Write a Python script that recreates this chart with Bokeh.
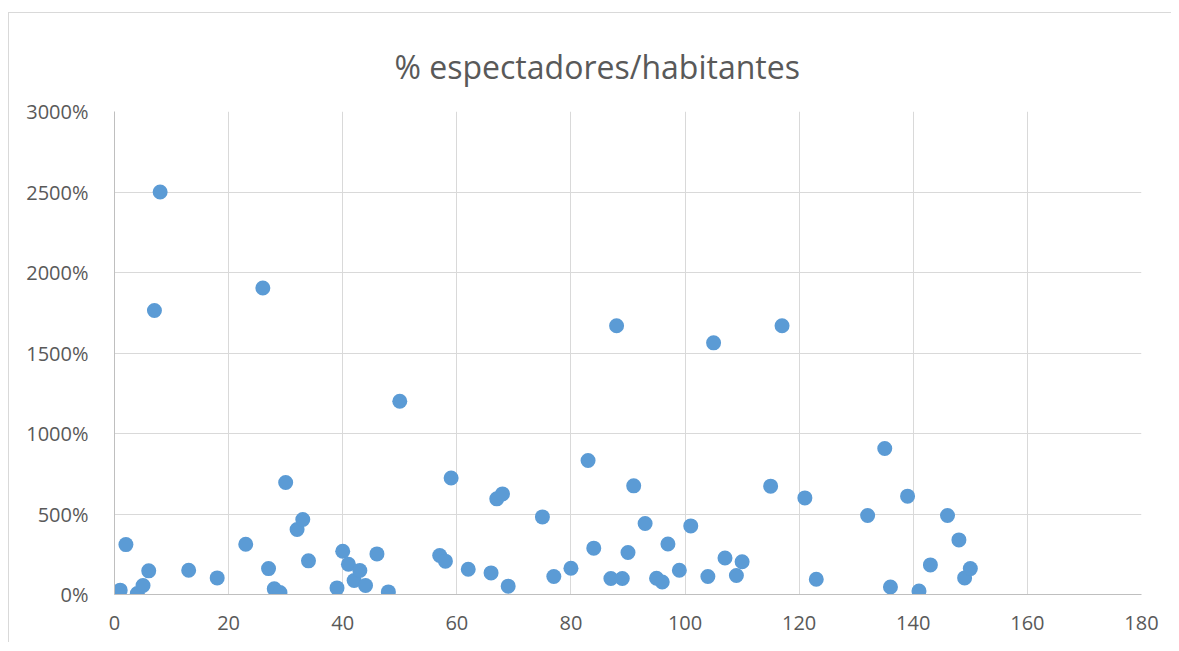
from bokeh.plotting import figure
from bokeh.models import ColumnDataSource, Range1d, FixedTicker, PrintfTickFormatter
from bokeh.embed import file_html
from bokeh.resources import INLINE

# Data (x: ordinal, y: % espectadores/habitantes)
x_vals = [1, 2, 4, 5, 6, 7, 8, 13, 18, 23, 26, 27, 28, 29, 30, 32, 33, 34, 39, 40,
          41, 42, 43, 44, 46, 48, 50, 57, 58, 59, 62, 66, 67, 68, 69, 75, 77, 80, 83, 84,
          87, 88, 89, 90, 91, 93, 95, 96, 97, 99, 101, 104, 105, 107, 109, 110, 115, 117, 121, 123,
          132, 135, 136, 139, 141, 143, 146, 148, 149, 150]
y_vals = [27, 310, 6, 56, 147, 1764, 2500, 151, 103, 312, 1904, 161, 35, 12, 696, 404, 466, 209, 41, 269,
          188, 87, 149, 56, 252, 16, 1200, 242, 207, 724, 157, 134, 594, 625, 52, 482, 112, 163, 832, 288,
          99, 1669, 99, 261, 675, 441, 101, 78, 314, 151, 426, 112, 1563, 227, 118, 203, 673, 1669, 600, 95,
          491, 907, 47, 611, 22, 184, 491, 339, 103, 161]
x_ticks = [0, 20, 40, 60, 80, 100, 120, 140, 160, 180]
y_ticks = [0, 500, 1000, 1500, 2000, 2500, 3000]
title_text = "% espectadores/habitantes"

FONT = "Open Sans"
TXT = "#595959"
GRID = "#d9d9d9"

src = ColumnDataSource(data=dict(x=x_vals, y=y_vals))

p = figure(width=1163, height=640, output_backend="svg", toolbar_location=None,
           x_range=Range1d(0, 180), y_range=Range1d(0, 3000),
           min_border_left=106, min_border_right=30, min_border_top=109, min_border_bottom=48,
           title=title_text)
# thin chart-area border (top and left) drawn behind a transparent canvas border
p.styles = {
    "margin-top": "2px", "margin-left": "8px",
    "background": ("linear-gradient(#d9d9d9,#d9d9d9) 0px 10px / 100% 1px no-repeat, "
                   "linear-gradient(#d9d9d9,#d9d9d9) 0px 10px / 1px 100% no-repeat, white"),
}

p.scatter("x", "y", source=src, size=15, fill_color="#5b9bd5", line_color="#5b9bd5", line_width=0)

p.outline_line_color = None
p.background_fill_color = "white"
p.border_fill_alpha = 0

p.title.align = "left"
p.title.offset = 280
p.title.text_font = FONT
p.title.text_font_size = "32px"
p.title.text_color = TXT
p.title.text_font_style = "normal"
p.title.standoff = 48

p.xaxis.ticker = FixedTicker(ticks=x_ticks)
p.yaxis.ticker = FixedTicker(ticks=y_ticks)
p.yaxis.formatter = PrintfTickFormatter(format="%d%%")

for ax in (p.xaxis[0], p.yaxis[0]):
    ax.major_label_text_font = FONT
    ax.major_label_text_font_size = "20px"
    ax.major_label_text_color = TXT
    ax.major_tick_line_color = None
    ax.minor_tick_line_color = None
    ax.axis_line_color = "#bfbfbf"
    ax.axis_line_width = 1
p.xaxis.major_label_standoff = 15
p.yaxis.major_label_standoff = 20

p.xgrid.grid_line_color = GRID
p.ygrid.grid_line_color = GRID
p.xgrid.grid_line_width = 1
p.ygrid.grid_line_width = 1

open("out.html", "w").write(file_html(p, INLINE))
